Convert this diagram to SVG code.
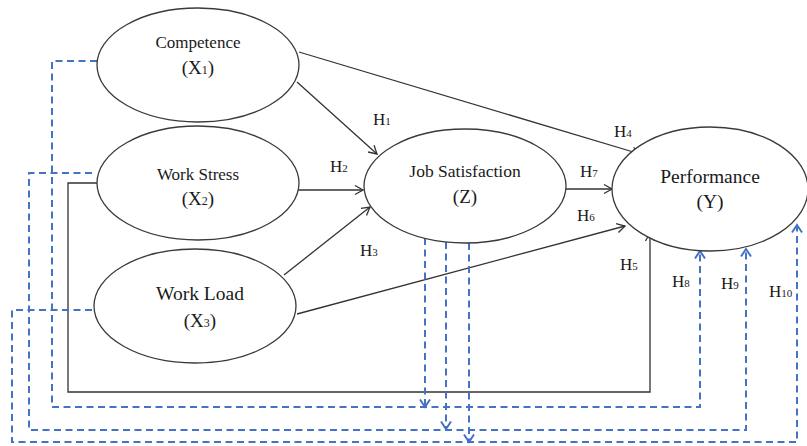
<svg xmlns="http://www.w3.org/2000/svg" width="807" height="446" viewBox="0 0 807 446">
<style>
  .node ellipse { fill: #ffffff; stroke: #3a3a3a; stroke-width: 1.3; }
  .t { font-family: "Liberation Serif", "Times New Roman", serif; fill: #1a1a1a; text-anchor: middle; }
  .lbl { font-family: "Liberation Serif", "Times New Roman", serif; fill: #1a1a1a; font-size: 17px; }
  .sub { font-size: 11px; }
  .solid { fill: none; stroke: #333333; stroke-width: 1.3; }
  .dash { fill: none; stroke: #4472C4; stroke-width: 2; stroke-dasharray: 7 4.5; }
</style>
<defs>
  <marker id="arr" markerUnits="userSpaceOnUse" markerWidth="20" markerHeight="20" viewBox="-10 -10 20 20" refX="0" refY="0" orient="auto">
    <path d="M-8,-4.5 L0,0 L-8,4.5" fill="none" stroke="#333333" stroke-width="1.3"/>
  </marker>
  <marker id="arrb" markerUnits="userSpaceOnUse" markerWidth="20" markerHeight="20" viewBox="-10 -10 20 20" refX="0" refY="0" orient="auto">
    <path d="M-7.5,-5 L0,0 L-7.5,5" fill="none" stroke="#4472C4" stroke-width="2"/>
  </marker>
</defs>
<rect width="807" height="446" fill="#ffffff"/>

<g id="connectors">
  <!-- solid -->
  <path class="solid" d="M299,52 L640,154" marker-end="url(#arr)"/>
  <path class="solid" d="M297,82 L377,154" marker-end="url(#arr)"/>
  <path class="solid" d="M298,190 L363,190" marker-end="url(#arr)"/>
  <path class="solid" d="M284,275 L370,207" marker-end="url(#arr)"/>
  <path class="solid" d="M297,314 L625,226" marker-end="url(#arr)"/>
  <path class="solid" d="M566,189 L612,189" marker-end="url(#arr)"/>
  <path class="solid" d="M97,183 H68 V392 H650 V233" marker-end="url(#arr)"/>
  <!-- dashed -->
  <path class="dash" d="M97,61 H52 V407 H700 V251" marker-end="url(#arrb)"/>
  <path class="dash" d="M92,173 H29 V430 H746 V249" marker-end="url(#arrb)"/>
  <path class="dash" d="M92,310 H12 V442 H797 V225" marker-end="url(#arrb)"/>
  <path class="dash" d="M425,238 V407" marker-end="url(#arrb)"/>
  <path class="dash" d="M446,242 V429" marker-end="url(#arrb)"/>
  <path class="dash" d="M469,243 V442" marker-end="url(#arrb)"/>
</g>

<g id="competence" class="node">
  <ellipse cx="198" cy="65" rx="101" ry="57"/>
  <text class="t" x="198" y="48" font-size="17">Competence</text>
  <text class="t" x="198" y="74" font-size="19">(X<tspan font-size="12">1</tspan>)</text>
</g>
<g id="work-stress" class="node">
  <ellipse cx="198" cy="183" rx="101" ry="57"/>
  <text class="t" x="198" y="180" font-size="17">Work Stress</text>
  <text class="t" x="198" y="205" font-size="19">(X<tspan font-size="12">2</tspan>)</text>
</g>
<g id="work-load" class="node">
  <ellipse cx="195" cy="306" rx="101" ry="57"/>
  <text class="t" x="200" y="300" font-size="19.5">Work Load</text>
  <text class="t" x="200" y="327" font-size="19">(X<tspan font-size="12">3</tspan>)</text>
</g>
<g id="job-satisfaction" class="node">
  <ellipse cx="465" cy="186" rx="101" ry="57"/>
  <text class="t" x="465" y="177" font-size="17.5">Job Satisfaction</text>
  <text class="t" x="465" y="203" font-size="19">(Z)</text>
</g>
<g id="performance" class="node">
  <ellipse cx="710" cy="189" rx="98" ry="62"/>
  <text class="t" x="710" y="183" font-size="19.5">Performance</text>
  <text class="t" x="710" y="208" font-size="19.5">(Y)</text>
</g>

<g id="labels">
  <text class="lbl" x="373" y="125">H<tspan class="sub">1</tspan></text>
  <text class="lbl" x="330" y="172">H<tspan class="sub">2</tspan></text>
  <text class="lbl" x="360" y="256">H<tspan class="sub">3</tspan></text>
  <text class="lbl" x="614" y="137">H<tspan class="sub">4</tspan></text>
  <text class="lbl" x="620" y="270">H<tspan class="sub">5</tspan></text>
  <text class="lbl" x="577" y="221">H<tspan class="sub">6</tspan></text>
  <text class="lbl" x="580" y="177">H<tspan class="sub">7</tspan></text>
  <text class="lbl" x="672" y="287">H<tspan class="sub">8</tspan></text>
  <text class="lbl" x="721" y="289">H<tspan class="sub">9</tspan></text>
  <text class="lbl" x="769" y="297">H<tspan class="sub">10</tspan></text>
</g>
</svg>
